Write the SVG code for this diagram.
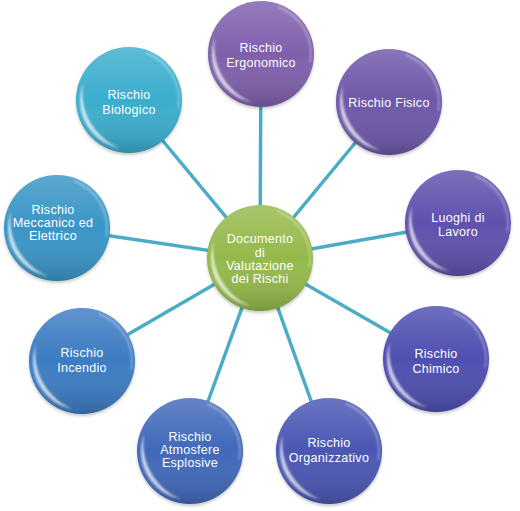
<svg xmlns="http://www.w3.org/2000/svg" xmlns:xlink="http://www.w3.org/1999/xlink" width="520" height="511" viewBox="0 0 520 511">
<style>
.lnk{stroke:#4bacc6;stroke-width:3.5;fill:none}
.t{font-family:"Liberation Sans",Arial,sans-serif;font-size:12.5px;letter-spacing:0.3px;fill:#fff;text-anchor:middle}
</style>
<defs>
<linearGradient id="shade" x1="0" y1="0" x2="0" y2="1">
<stop offset="0" stop-color="#fff" stop-opacity="0.18"/>
<stop offset="0.5" stop-color="#fff" stop-opacity="0"/>
<stop offset="1" stop-color="#000" stop-opacity="0.18"/>
</linearGradient>
<filter id="bl" x="-20%" y="-20%" width="140%" height="140%"><feGaussianBlur stdDeviation="0.8"/></filter>
<filter id="sh" x="-20%" y="-20%" width="140%" height="140%"><feGaussianBlur stdDeviation="1.5"/></filter>
<g id="gloss">
<circle r="53" fill="url(#shade)"/>
<path d="M -8.5 48.3 A 49 49 0 0 1 -46 -16.8 A 60 60 0 0 0 -8.5 48.3 Z" fill="#fff" fill-opacity="0.7" filter="url(#bl)"/>
<path d="M 17.1 -47 A 50 50 0 0 1 49.2 8.7" stroke="#fff" stroke-opacity="0.4" stroke-width="1.5" fill="none" filter="url(#bl)"/>
</g>
<circle id="shd" r="53" fill="#000" fill-opacity="0.22" filter="url(#sh)"/>
</defs>
<rect width="520" height="511" fill="#fff"/>
<g id="connectors">
<line class="lnk" x1="260" y1="258" x2="261" y2="54"/>
<line class="lnk" x1="260" y1="258" x2="389" y2="102"/>
<line class="lnk" x1="260" y1="258" x2="458" y2="223"/>
<line class="lnk" x1="260" y1="258" x2="436" y2="359"/>
<line class="lnk" x1="260" y1="258" x2="329" y2="451"/>
<line class="lnk" x1="260" y1="258" x2="190" y2="451"/>
<line class="lnk" x1="260" y1="258" x2="82" y2="361"/>
<line class="lnk" x1="260" y1="258" x2="57" y2="228"/>
<line class="lnk" x1="260" y1="258" x2="129" y2="100"/>
</g>
<g id="n-center" transform="translate(260 258)">
<use href="#shd" y="2"/>
<circle r="53" fill="#94b94a"/>
<use href="#gloss"/>
<text class="t" y="-15">Documento</text>
<text class="t" y="-1">di</text>
<text class="t" y="12">Valutazione</text>
<text class="t" y="25">dei Rischi</text>
</g>
<g id="n-ergonomico" transform="translate(261 54)">
<use href="#shd" y="2"/>
<circle r="53" fill="#7f60ac"/>
<use href="#gloss"/>
<text class="t" y="-2">Rischio</text>
<text class="t" y="13">Ergonomico</text>
</g>
<g id="n-fisico" transform="translate(389 102)">
<use href="#shd" y="2"/>
<circle r="53" fill="#6e58a9"/>
<use href="#gloss"/>
<text class="t" y="4.5">Rischio Fisico</text>
</g>
<g id="n-luoghi" transform="translate(458 223)">
<use href="#shd" y="2"/>
<circle r="53" fill="#5f51ad"/>
<use href="#gloss"/>
<text class="t" y="-1">Luoghi di</text>
<text class="t" y="13">Lavoro</text>
</g>
<g id="n-chimico" transform="translate(436 359)">
<use href="#shd" y="2"/>
<circle r="53" fill="#4e4fb0"/>
<use href="#gloss"/>
<text class="t" y="-1">Rischio</text>
<text class="t" y="14">Chimico</text>
</g>
<g id="n-organizzativo" transform="translate(329 451)">
<use href="#shd" y="2"/>
<circle r="53" fill="#4a57b3"/>
<use href="#gloss"/>
<text class="t" y="-4">Rischio</text>
<text class="t" y="11">Organizzativo</text>
</g>
<g id="n-atmosfere" transform="translate(190 451)">
<use href="#shd" y="2"/>
<circle r="53" fill="#4169ba"/>
<use href="#gloss"/>
<text class="t" y="-10">Rischio</text>
<text class="t" y="3">Atmosfere</text>
<text class="t" y="16">Esplosive</text>
</g>
<g id="n-incendio" transform="translate(82 361)">
<use href="#shd" y="2"/>
<circle r="53" fill="#3c7cc2"/>
<use href="#gloss"/>
<text class="t" y="-4">Rischio</text>
<text class="t" y="11">Incendio</text>
</g>
<g id="n-meccanico" transform="translate(57 228)">
<use href="#shd" y="2"/>
<circle r="53" fill="#3a95c6"/>
<use href="#gloss"/>
<text class="t" x="-4" y="-14">Rischio</text>
<text class="t" x="-4" y="-1">Meccanico ed</text>
<text class="t" x="-4" y="12">Elettrico</text>
</g>
<g id="n-biologico" transform="translate(129 100)">
<use href="#shd" y="2"/>
<circle r="53" fill="#3badcd"/>
<use href="#gloss"/>
<text class="t" y="-1">Rischio</text>
<text class="t" y="14">Biologico</text>
</g>
</svg>
